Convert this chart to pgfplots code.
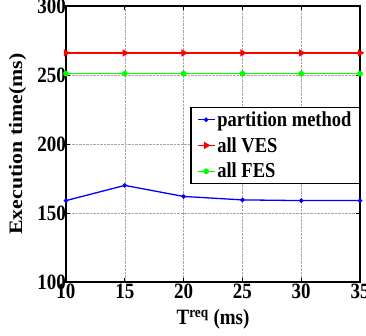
\documentclass[border=0pt]{standalone}
\usepackage{fontspec}
\setmainfont{Liberation Serif}
\usepackage{pgfplots}
\pgfplotsset{compat=1.18}
\definecolor{mblue}{RGB}{0,0,255}
\definecolor{mred}{RGB}{255,0,0}
\definecolor{mgreen}{RGB}{0,255,0}
\begin{document}
\begin{tikzpicture}
\begin{axis}[
  at={(0pt,0pt)}, anchor=south west,
  scale only axis, width=294pt, height=276pt,
  xmin=10, xmax=35, ymin=100, ymax=300,
  xtick={10,15,20,25,30,35}, ytick={100,150,200,250,300},
  grid=major, grid style={densely dotted, black!35, line width=0.6pt},
  axis line style={line width=1.4pt},
  tick style={black, line width=0.8pt}, tick align=inside, major tick length=4pt,
  /pgf/number format/assume math mode=true,
  ticklabel style={font=\fontsize{19}{19}\selectfont\bfseries},
  xticklabel={\scalebox{1}[1.15]{\pgfmathprintnumber{\tick}}},
  yticklabel={\scalebox{1}[1.15]{\pgfmathprintnumber{\tick}}},
  xticklabel style={yshift=-1pt, inner sep=1pt},
  yticklabel style={xshift=1pt, inner sep=1pt},
  xlabel={\scalebox{1}[1.15]{T\textsuperscript{req} (ms)}},
  ylabel={\scalebox{1.15}[1]{Execution time(ms)}},
  label style={font=\fontsize{19}{19}\selectfont\bfseries},
  xlabel style={at={(0.5,-0.1)}, anchor=north, inner sep=0pt, yshift=0pt},
  ylabel style={at={(-0.165,0.5)}, anchor=center, inner sep=0pt},
  legend style={at={(1,0.634)}, anchor=north east, draw=black, line width=1.1pt,
    fill=white, font=\fontsize{18.5}{18.5}\selectfont\bfseries, inner ysep=2pt,
    inner xsep=6pt, row sep=5.5pt, legend cell align=left},
  legend image post style={line width=1.3pt},
]
\addplot[mblue, line width=1.3pt, mark=*, mark size=1.6pt] coordinates {
  (10,159) (15,170) (20,162) (25,159.5) (30,159) (35,159)};
\addlegendentry{\scalebox{1}[1.15]{partition method}}
\addplot[mred, line width=1.3pt, mark=triangle*, mark size=3pt, mark options={rotate=-90}] coordinates {
  (10,266) (15,266) (20,266) (25,266) (30,266) (35,266)};
\addlegendentry{\scalebox{1}[1.15]{all VES}}
\addplot[mgreen, line width=1.3pt, mark=*, mark size=2.2pt] coordinates {
  (10,251) (15,251) (20,251) (25,251) (30,251) (35,251)};
\addlegendentry{\scalebox{1}[1.15]{all FES}}
\end{axis}
\pgfresetboundingbox
\useasboundingbox (-66pt,-53pt) rectangle (300pt,282pt);
\end{tikzpicture}
\end{document}
